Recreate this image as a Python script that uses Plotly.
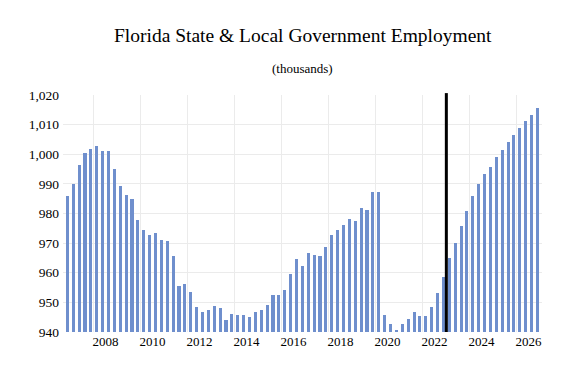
import plotly.graph_objects as go

quarters = [
    "2006Q4",
    "2007Q1", "2007Q2", "2007Q3", "2007Q4",
    "2008Q1", "2008Q2", "2008Q3", "2008Q4",
    "2009Q1", "2009Q2", "2009Q3", "2009Q4",
    "2010Q1", "2010Q2", "2010Q3", "2010Q4",
    "2011Q1", "2011Q2", "2011Q3", "2011Q4",
    "2012Q1", "2012Q2", "2012Q3", "2012Q4",
    "2013Q1", "2013Q2", "2013Q3", "2013Q4",
    "2014Q1", "2014Q2", "2014Q3", "2014Q4",
    "2015Q1", "2015Q2", "2015Q3", "2015Q4",
    "2016Q1", "2016Q2", "2016Q3", "2016Q4",
    "2017Q1", "2017Q2", "2017Q3", "2017Q4",
    "2018Q1", "2018Q2", "2018Q3", "2018Q4",
    "2019Q1", "2019Q2", "2019Q3", "2019Q4",
    "2020Q1", "2020Q2", "2020Q3", "2020Q4",
    "2021Q1", "2021Q2", "2021Q3", "2021Q4",
    "2022Q1", "2022Q2", "2022Q3", "2022Q4",
    "2023Q1", "2023Q2", "2023Q3", "2023Q4",
    "2024Q1", "2024Q2", "2024Q3", "2024Q4",
    "2025Q1", "2025Q2", "2025Q3", "2025Q4",
    "2026Q1", "2026Q2", "2026Q3", "2026Q4",
]

employment = [
    985.9,
    990.1, 996.3, 1000.4, 1001.7,
    1002.7, 1001.0, 1001.0, 995.0,
    989.3, 986.2, 984.9, 977.8,
    974.4, 972.7, 973.3, 971.1,
    970.7, 965.8, 955.6, 956.1,
    953.6, 948.3, 946.9, 947.5,
    948.7, 948.1, 944.1, 946.1,
    945.9, 945.9, 945.2, 946.6,
    947.4, 949.0, 952.4, 952.5,
    954.1, 959.5, 964.8, 962.4,
    966.5, 966.0, 965.7, 968.7,
    972.8, 974.6, 976.1, 978.1,
    977.5, 981.9, 981.3, 987.3,
    987.3, 945.6, 942.6, 940.8,
    942.6, 944.5, 946.8, 945.3,
    945.3, 948.5, 953.1, 958.7,
    964.9, 970.0, 975.8, 980.9,
    985.9, 990.0, 993.4, 995.7,
    999.0, 1001.6, 1004.0, 1006.4,
    1008.8, 1011.2, 1013.3, 1015.7,
]

tick_years = [2008, 2010, 2012, 2014, 2016, 2018, 2020, 2022, 2024, 2026]
forecast_start = 2023.0

title = "Florida State &amp; Local Government Employment"
subtitle = "(thousands)"


def qpos(q):
    y, n = q.split("Q")
    return int(y) + (int(n) - 1) / 4 + 0.125


xs = [qpos(q) for q in quarters]

FONT = "Liberation Serif, Times New Roman, serif"
GRID = "#ebebeb"

fig = go.Figure()
fig.add_trace(go.Bar(
    x=xs, y=employment, width=0.13,
    marker=dict(color="rgb(111,143,205)", line=dict(width=0)),
    hoverinfo="x+y",
))

fig.add_shape(type="line", xref="x", yref="paper",
              x0=forecast_start, x1=forecast_start, y0=0, y1=1.008,
              line=dict(color="black", width=3))

fig.add_annotation(text=title, xref="paper", yref="paper", x=0.5, y=1.249,
                   showarrow=False, yanchor="middle",
                   font=dict(family=FONT, size=19.5, color="black"))
fig.add_annotation(text=subtitle, xref="paper", yref="paper", x=0.5, y=1.11,
                   showarrow=False, yanchor="middle",
                   font=dict(family=FONT, size=13, color="black"))

# page body has an 8px default margin, so the figure is 8px smaller
fig.update_layout(
    width=571, height=370,
    margin=dict(l=55, r=37, t=87, b=46),
    paper_bgcolor="white", plot_bgcolor="white",
    showlegend=False, bargap=0,
    font=dict(family=FONT, size=13, color="black"),
    xaxis=dict(
        range=[2006.69, 2027.07],
        tickmode="array",
        tickvals=[y + 0.5 for y in tick_years],
        ticktext=[str(y) for y in tick_years],
        showgrid=False, zeroline=False, showline=False, ticks="",
        tickfont=dict(family=FONT, size=13, color="black"),
        minor=dict(tickmode="array", tickvals=tick_years,
                   showgrid=True, gridcolor=GRID, gridwidth=1, ticks=""),
    ),
    yaxis=dict(
        range=[940, 1020], dtick=10, tick0=940, tickformat=",d",
        showgrid=True, gridcolor=GRID, gridwidth=1,
        zeroline=False, showline=False, ticks="",
        ticklabelstandoff=3,
        tickfont=dict(family=FONT, size=13.5, color="black"),
    ),
)

fig.write_html("out.html")
